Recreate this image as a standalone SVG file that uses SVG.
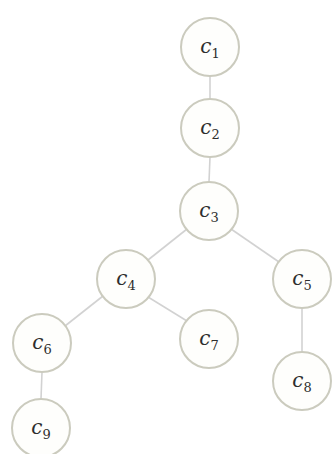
<svg xmlns="http://www.w3.org/2000/svg" width="333" height="454" viewBox="0 0 333 454">
<style>
.n circle{fill:#fefefc;stroke:#cbcbbe;stroke-width:2}
.e line{stroke:#d2d2d2;stroke-width:1.6}
.t{font-family:"DejaVu Serif","Liberation Serif",serif;font-style:italic;font-size:20px;fill:#2e2e2e;text-anchor:middle}
.s{font-style:normal;font-size:13px}
</style>
<rect width="333" height="454" fill="#ffffff"/>
<g id="connectors" class="e">
<line x1="210" y1="76" x2="210" y2="99"/>
<line x1="210" y1="157" x2="209" y2="182"/>
<line x1="187" y1="229" x2="148" y2="260"/>
<line x1="231" y1="229" x2="279" y2="262"/>
<line x1="103" y1="296" x2="65" y2="326"/>
<line x1="148" y1="297" x2="187" y2="321"/>
<line x1="302" y1="308" x2="302" y2="352"/>
<line x1="42" y1="372" x2="41" y2="399"/>
</g>
<g id="c1" class="n"><circle cx="210" cy="47" r="29"/><text class="t" x="210" y="53">c<tspan class="s" dy="5">1</tspan></text></g>
<g id="c2" class="n"><circle cx="210" cy="128" r="29"/><text class="t" x="210" y="134">c<tspan class="s" dy="5">2</tspan></text></g>
<g id="c3" class="n"><circle cx="209" cy="211" r="29"/><text class="t" x="209" y="217">c<tspan class="s" dy="5">3</tspan></text></g>
<g id="c4" class="n"><circle cx="126" cy="279" r="29"/><text class="t" x="126" y="285">c<tspan class="s" dy="5">4</tspan></text></g>
<g id="c5" class="n"><circle cx="302" cy="279" r="29"/><text class="t" x="302" y="285">c<tspan class="s" dy="5">5</tspan></text></g>
<g id="c6" class="n"><circle cx="42" cy="343" r="29"/><text class="t" x="42" y="349">c<tspan class="s" dy="5">6</tspan></text></g>
<g id="c7" class="n"><circle cx="209" cy="339" r="29"/><text class="t" x="209" y="345">c<tspan class="s" dy="5">7</tspan></text></g>
<g id="c8" class="n"><circle cx="302" cy="381" r="29"/><text class="t" x="302" y="387">c<tspan class="s" dy="5">8</tspan></text></g>
<g id="c9" class="n"><circle cx="41" cy="428" r="29"/><text class="t" x="41" y="434">c<tspan class="s" dy="5">9</tspan></text></g>
</svg>
